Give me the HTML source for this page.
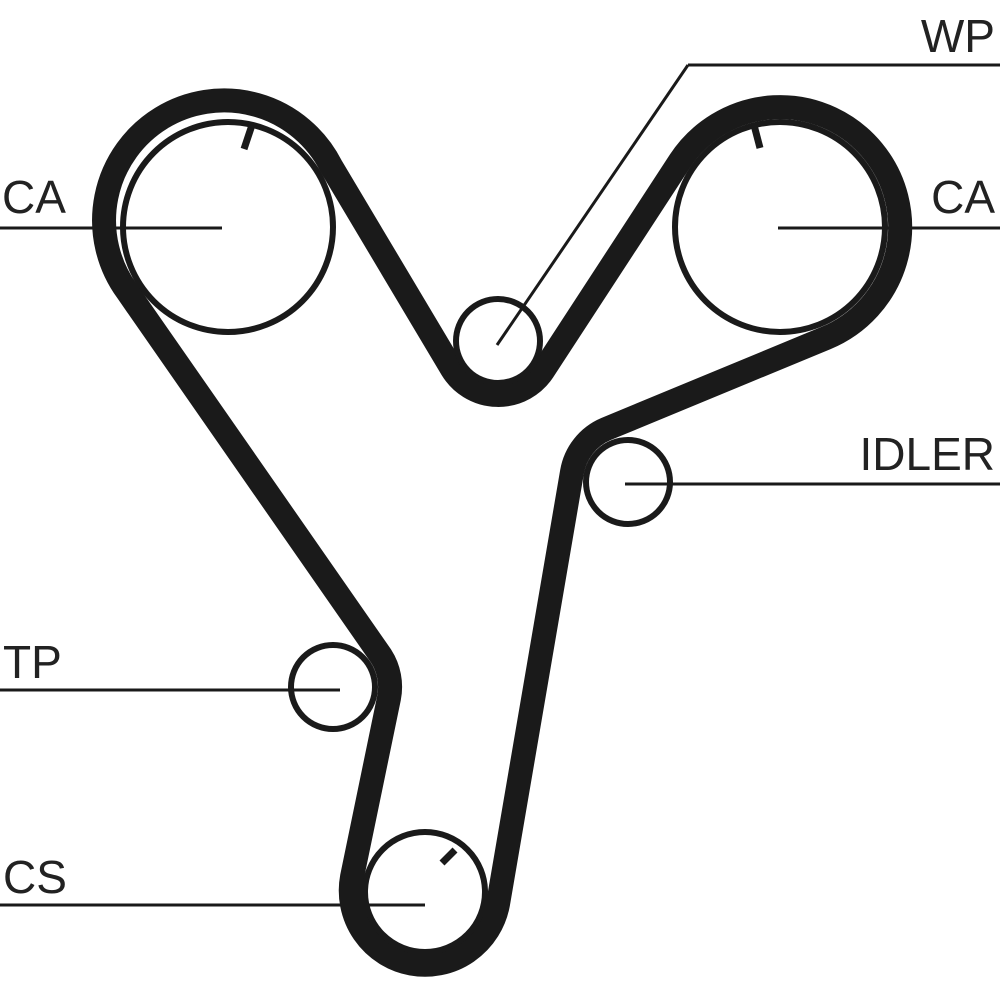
<!DOCTYPE html>
<html><head><meta charset="utf-8"><style>
html,body{margin:0;padding:0;background:#fff;}
svg{display:block;}
text{font-family:"Liberation Sans",sans-serif;font-size:46px;fill:#222;}
</style></head><body>
<svg width="1000" height="1000" viewBox="0 0 1000 1000" xmlns="http://www.w3.org/2000/svg">
<g fill="none" stroke="#1a1a1a">
<path d="M 331,166 A120 120 0 1 0 127,291 L 381,656 A57 57 0 0 1 389,698 L 352,877 A74 74 0 1 0 498,904 L 572,472 A57 57 0 0 1 606,429 L 826,338 A120 120 0 1 0 680,161 L 543,371 A54 54 0 0 1 452,369 Z" stroke-width="24" stroke-linejoin="round"/>
<circle cx="228" cy="227" r="105" stroke-width="6"/>
<circle cx="780" cy="227" r="105" stroke-width="6"/>
<circle cx="498" cy="341" r="42" stroke-width="6"/>
<circle cx="628" cy="482" r="42" stroke-width="6"/>
<circle cx="333" cy="687" r="42" stroke-width="6"/>
<circle cx="425" cy="892" r="60" stroke-width="6"/>
<line x1="244" y1="149" x2="252" y2="125" stroke-width="7"/>
<line x1="760" y1="148" x2="754" y2="125" stroke-width="7"/>
<line x1="442" y1="863" x2="455" y2="850" stroke-width="7"/>
<g stroke-width="3">
<line x1="0" y1="228" x2="222" y2="228"/>
<line x1="778" y1="228" x2="1000" y2="228"/>
<line x1="688" y1="65" x2="1000" y2="65"/>
<line x1="688" y1="65" x2="497" y2="345"/>
<line x1="625" y1="484" x2="1000" y2="484"/>
<line x1="0" y1="690" x2="340" y2="690"/>
<line x1="0" y1="905" x2="425" y2="905"/>
</g>
</g>
<text x="2" y="213">CA</text>
<text x="995" y="213" text-anchor="end">CA</text>
<text x="995" y="52" text-anchor="end">WP</text>
<text x="995" y="470" text-anchor="end">IDLER</text>
<text x="3" y="678">TP</text>
<text x="3" y="893">CS</text>
</svg>
</body></html>
